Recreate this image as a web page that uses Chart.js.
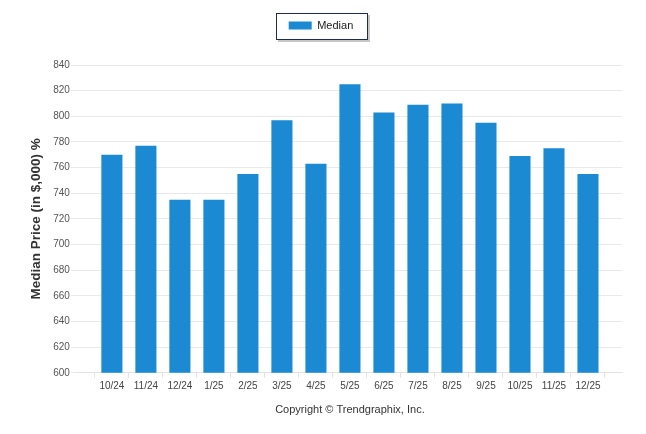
<!DOCTYPE html>
<html>
<head>
<meta charset="utf-8">
<script src="https://cdn.jsdelivr.net/npm/chart.js@4.4.1/dist/chart.umd.min.js"></script>
<style>
  html, body { margin: 0; padding: 0; background: #ffffff; }
  #wrap { width: 646px; height: 434px; position: relative; }
</style>
</head>
<body>
<div id="wrap"><canvas id="c"></canvas></div>
<script>
// ---- data ----
const categories = ['10/24','11/24','12/24','1/25','2/25','3/25','4/25','5/25','6/25','7/25','8/25','9/25','10/25','11/25','12/25'];
const medianValues = [770, 777, 735, 735, 755, 797, 763, 825, 803, 809, 810, 795, 769, 775, 755];
const seriesName = 'Median';
const yTitle = 'Median Price (in $,000) %';
const footerText = 'Copyright \u00A9 Trendgraphix, Inc.';
const yMin = 600, yMax = 840, yStep = 20;

// axis runs from one slot before the first category to one after the last
const labels = [''].concat(categories, ['']);
const values = [null].concat(medianValues, [null]);

const regular = "'Liberation Sans', Arial, sans-serif";
const LEGEND_SHIFT = 4;

const legendFrame = {
  id: 'legendFrame',
  beforeInit(chart) {
    const lg = chart.legend;
    if (lg) {
      const orig = lg.fit;
      lg.fit = function () { orig.call(this); this.height = 55; };
    }
  },
  afterLayout(chart) {
    const lg = chart.legend;
    if (lg) { lg.left -= LEGEND_SHIFT; lg.right -= LEGEND_SHIFT; }
  },
  beforeDraw(chart) {
    const lg = chart.legend;
    if (!lg || !lg.legendHitBoxes || !lg.legendHitBoxes.length) return;
    const hb = lg.legendHitBoxes[0];
    const left = hb.left - LEGEND_SHIFT;
    const x = Math.round(left - 9) + 0.5;
    const y = Math.round(hb.top + hb.height / 2 - 13) + 0.5;
    const w = Math.round(hb.width + 26);
    const h = 26;
    const ctx = chart.ctx;
    ctx.save();
    ctx.fillStyle = 'rgba(0,0,0,0.22)';
    ctx.fillRect(x + 1.5, y + 1.5, w + 1, h + 1);
    ctx.fillStyle = '#ffffff';
    ctx.fillRect(x, y, w, h);
    ctx.strokeStyle = '#1f2d4c';
    ctx.lineWidth = 1;
    ctx.strokeRect(x, y, w, h);
    ctx.restore();
  }
};

new Chart(document.getElementById('c'), {
  type: 'bar',
  data: {
    labels: labels,
    datasets: [{
      label: seriesName,
      data: values,
      backgroundColor: '#1b8ad2',
      borderWidth: 0,
      barPercentage: 0.62,
      categoryPercentage: 1.0
    }]
  },
  plugins: [legendFrame],
  options: {
    responsive: true,
    maintainAspectRatio: false,
    animation: false,
    layout: { padding: { top: 10, left: 28, right: 24, bottom: 7 } },
    plugins: {
      legend: {
        display: true,
        position: 'top',
        labels: {
          boxWidth: 23,
          boxHeight: 8,
          padding: 10,
          color: '#222',
          font: { family: regular, size: 11 }
        }
      },
      title: {
        display: true,
        position: 'bottom',
        fullSize: false,
        text: footerText,
        color: '#333',
        font: { family: regular, size: 11, weight: 'normal' },
        padding: { top: 10, bottom: 10 }
      },
      tooltip: { enabled: false }
    },
    scales: {
      x: {
        type: 'category',
        offset: false,
        grid: {
          display: true,
          drawOnChartArea: false,
          drawTicks: true,
          tickLength: 5,
          color: '#e3e3e3'
        },
        border: { display: true, color: '#e3e3e3', width: 1 },
        ticks: {
          autoSkip: false,
          maxRotation: 0,
          minRotation: 0,
          padding: 2,
          color: '#444',
          font: { family: regular, size: 10 }
        }
      },
      y: {
        min: yMin,
        max: yMax,
        ticks: {
          stepSize: yStep,
          padding: 1,
          color: '#555',
          font: { family: regular, size: 10 }
        },
        grid: {
          color: '#e9e9e9',
          tickLength: 7,
          drawTicks: true
        },
        border: { display: false },
        title: {
          display: true,
          text: yTitle,
          color: '#333',
          font: { family: regular, size: 13.5, weight: 'bold' },
          padding: { top: 0, bottom: 8 }
        }
      }
    }
  }
});
</script>
</body>
</html>
